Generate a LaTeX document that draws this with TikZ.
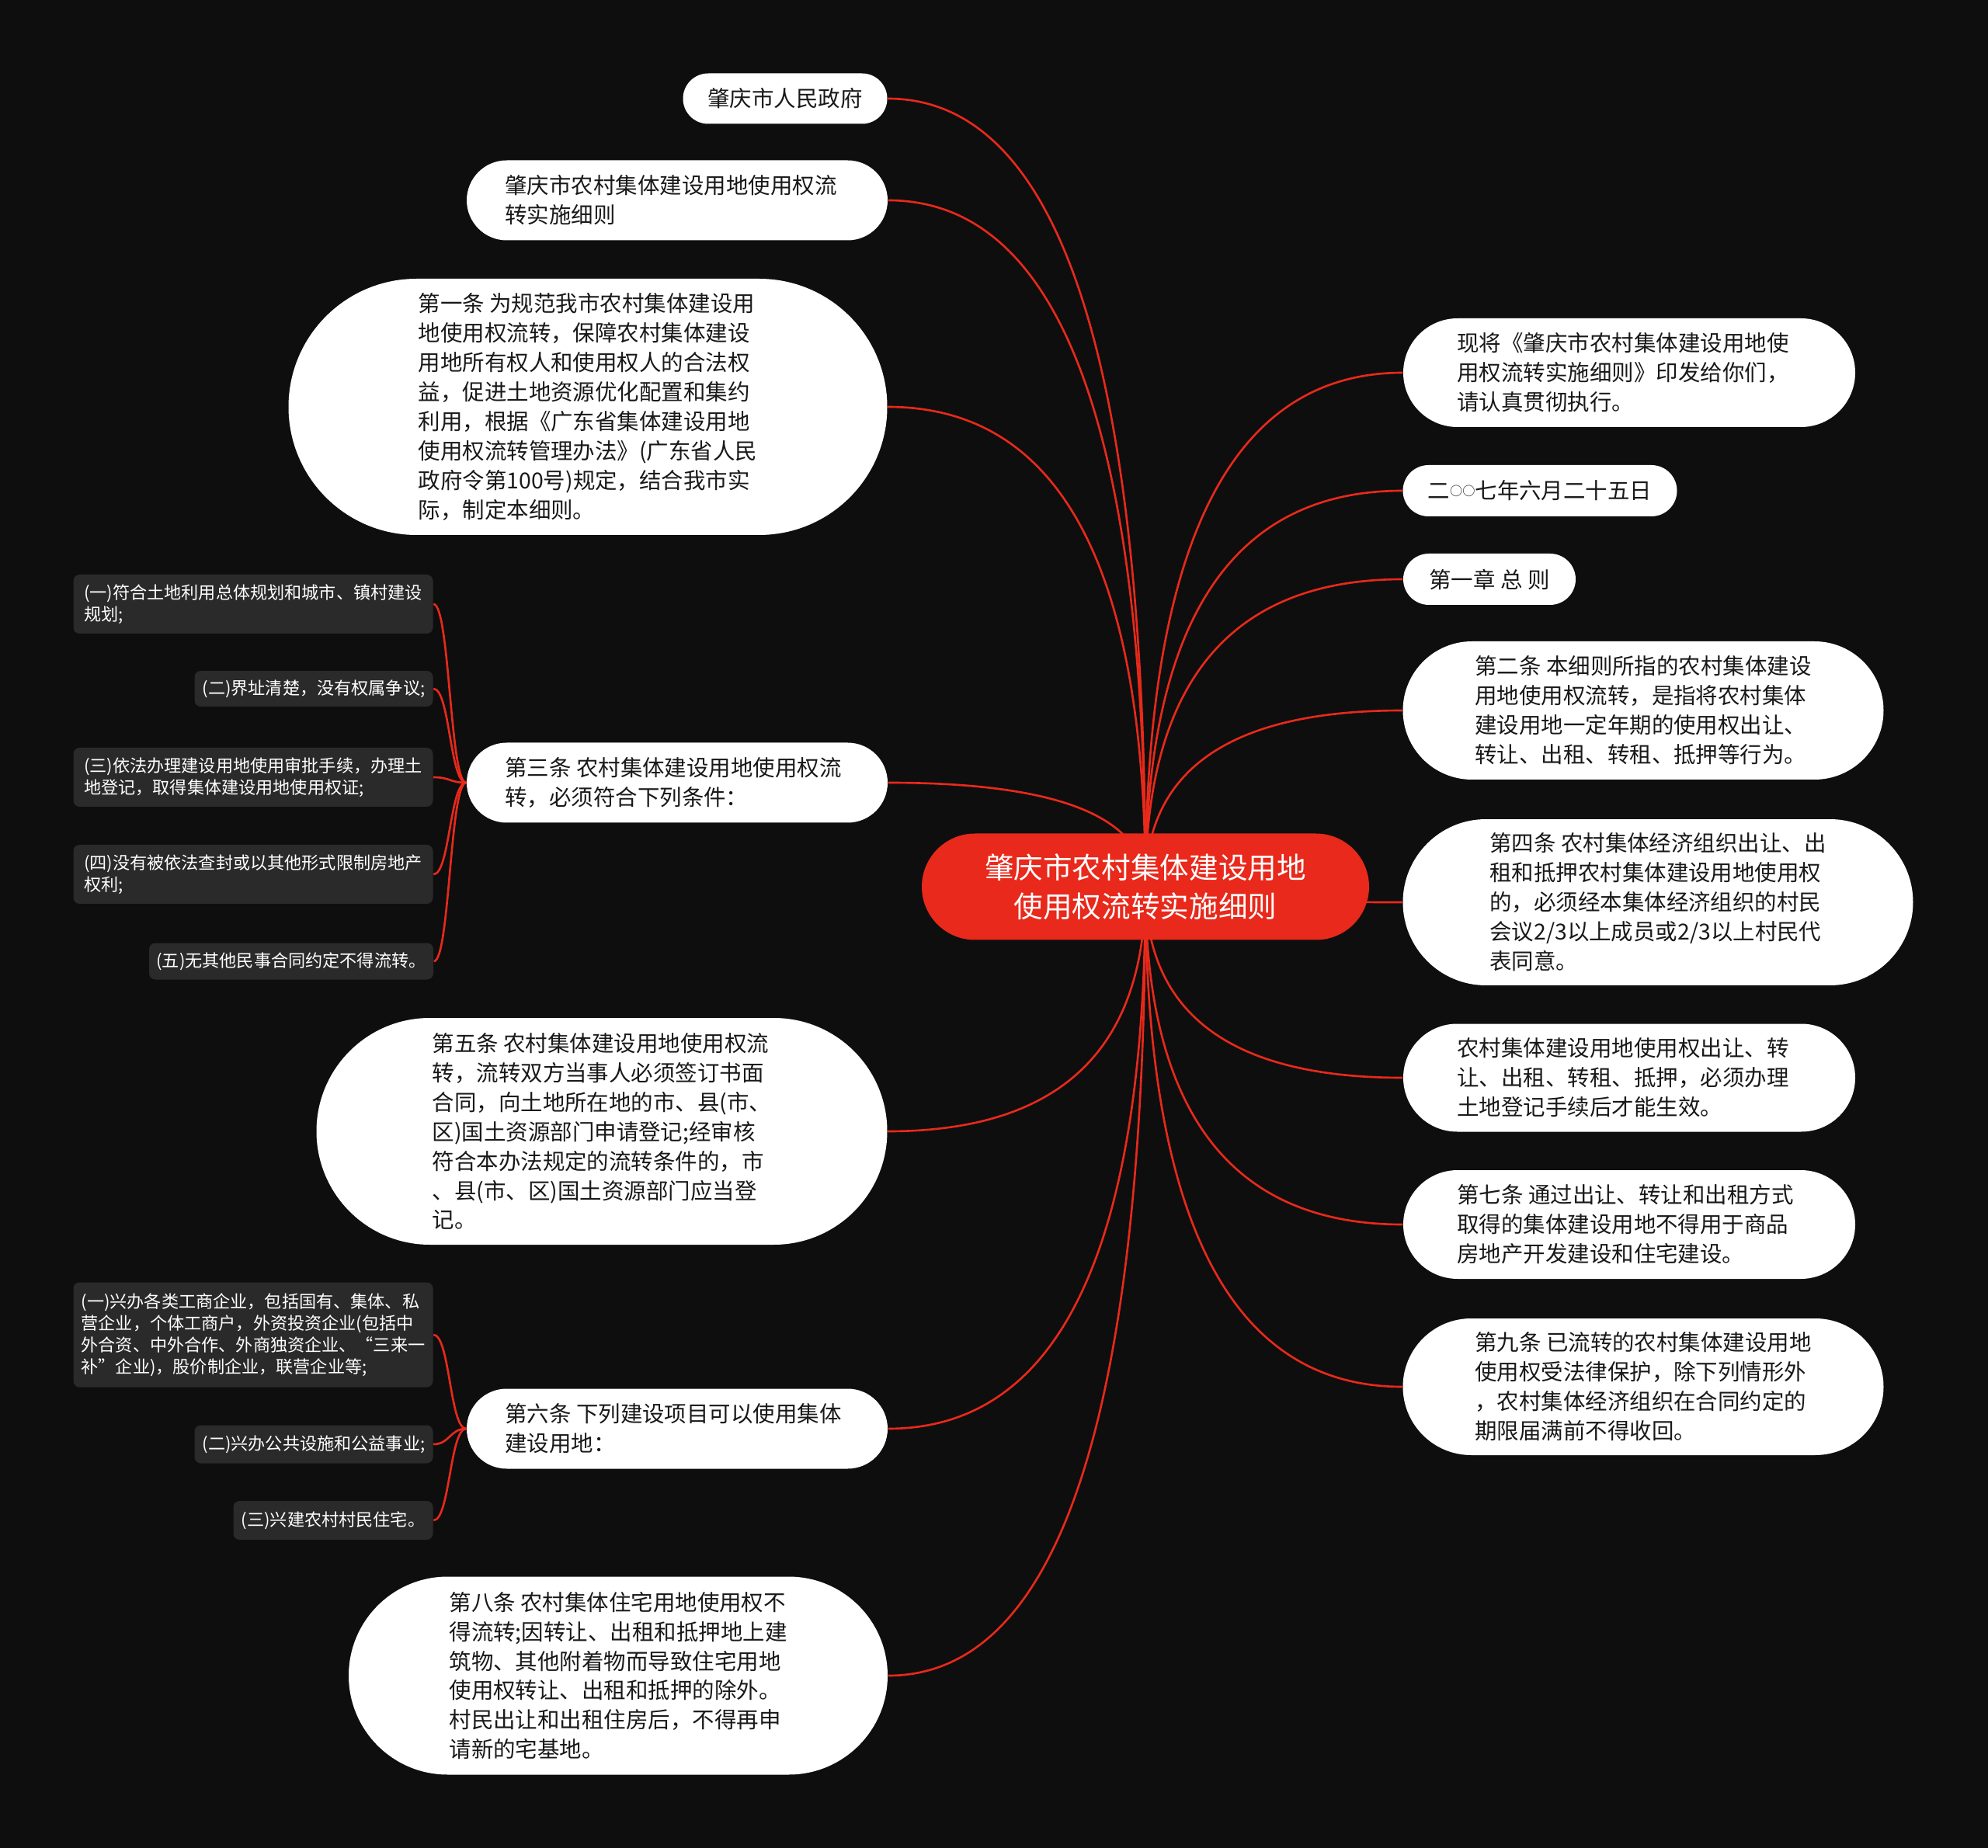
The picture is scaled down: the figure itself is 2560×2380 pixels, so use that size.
\documentclass[tikz,border=0pt]{standalone}
\usepackage{fontspec}
\newfontfamily\cjk{Noto Sans CJK SC}
\usetikzlibrary{calc}
\definecolor{bgblack}{HTML}{0E0E0E}
\definecolor{mapred}{HTML}{E8291B}
\definecolor{subgray}{HTML}{2A2A2A}
\pgfdeclarelayer{bg}
\pgfdeclarelayer{links}
\pgfsetlayers{bg,links,main}

\begin{document}
\begin{tikzpicture}[x=0.1mm,y=-0.1mm,
		wbox/.style={fill=white,text=black!90,font=\cjk\fontsize{8.1}{10.8}\selectfont,align=left,inner sep=0pt,minimum height=#1,rounded corners=#1/2},
		gbox/.style={fill=subgray,text=white,font=\cjk\fontsize{6.3}{8}\selectfont,align=left,inner sep=0pt,rounded corners=0.8mm},
		rootbox/.style={fill=mapred,text=white,font=\cjk\fontsize{10.7}{14.4}\selectfont,align=center,inner sep=0pt,minimum width=57.6mm,minimum height=13.7mm,rounded corners=6.85mm},
		link/.style={draw=mapred,line width=0.75pt}]
		\def\pad{\hspace*{1.6mm}}
		\useasboundingbox (0,0) rectangle (2560,2380);
		\begin{pgfonlayer}{bg}
			\fill[bgblack] (0,0) rectangle (2560,2380);
		\end{pgfonlayer}
		
		\node[rootbox] (root) at (1475,1142) {肇庆市农村集体建设用地\\使用权流转实施细则};
		
		%左侧
		\node[wbox=6.5mm,minimum width=26.3mm] (gov) at (1011,127) {肇庆市人民政府};
		\node[wbox=10.3mm,minimum width=54.2mm] (title) at (872,258) {肇庆市农村集体建设用地使用权流\pad\\转实施细则};
		\node[wbox=33mm,minimum width=77.1mm] (art1) at (757,524) {第一条 为规范我市农村集体建设用\\地使用权流转，保障农村集体建设\\用地所有权人和使用权人的合法权\\益，促进土地资源优化配置和集约\\利用，根据《广东省集体建设用地\\使用权流转管理办法》(广东省人民\\政府令第100号)规定，结合我市实\\际，制定本细则。};
		\node[wbox=10.3mm,minimum width=54.2mm] (art3) at (872,1008) {第三条 农村集体建设用地使用权流\hspace*{1mm}\\转，必须符合下列条件：};
		\node[wbox=29.2mm,minimum width=73.5mm] (art5) at (775,1457) {第五条 农村集体建设用地使用权流\\转，流转双方当事人必须签订书面\\合同，向土地所在地的市、县(市、\\区)国土资源部门申请登记;经审核\\符合本办法规定的流转条件的，市\\、县(市、区)国土资源部门应当登\\记。};
		\node[wbox=10.3mm,minimum width=54.2mm] (art6) at (872,1840) {第六条 下列建设项目可以使用集体\hspace*{1mm}\\建设用地：};
		\node[wbox=25.5mm,minimum width=69.4mm] (art8) at (796,2158) {第八条 农村集体住宅用地使用权不\\得流转;因转让、出租和抵押地上建\\筑物、其他附着物而导致住宅用地\\使用权转让、出租和抵押的除外。\\村民出让和出租住房后，不得再申\\请新的宅基地。};
		
		%第三条的条件
		\node[gbox,minimum width=46.3mm,minimum height=7.6mm] (s1) at (326,778) {(一)符合土地利用总体规划和城市、镇村建设\\规划;};
		\node[gbox,minimum width=30.7mm,minimum height=4.6mm] (s2) at (404,887) {(二)界址清楚，没有权属争议;};
		\node[gbox,minimum width=46.3mm,minimum height=7.6mm] (s3) at (326,1001) {(三)依法办理建设用地使用审批手续，办理土\\地登记，取得集体建设用地使用权证;};
		\node[gbox,minimum width=46.3mm,minimum height=7.6mm] (s4) at (326,1126) {(四)没有被依法查封或以其他形式限制房地产\\权利;};
		\node[gbox,minimum width=36.6mm,minimum height=4.7mm] (s5) at (375,1238) {(五)无其他民事合同约定不得流转。};
		
		%第六条的项目
		\node[gbox,minimum width=46.3mm,minimum height=13.5mm] (t1) at (326,1719) {(一)兴办各类工商企业，包括国有、集体、私\\营企业，个体工商户，外资投资企业(包括中\\外合资、中外合作、外商独资企业、“三来一\\补”企业)，股价制企业，联营企业等;};
		\node[gbox,minimum width=30.7mm,minimum height=4.9mm] (t2) at (404,1860) {(二)兴办公共设施和公益事业;};
		\node[gbox,minimum width=25.7mm,minimum height=5mm] (t3) at (429,1958) {(三)兴建农村村民住宅。};
		
		%右侧
		\node[wbox=14mm,minimum width=58.2mm] (issue) at (2098,480) {现将《肇庆市农村集体建设用地使\pad\\用权流转实施细则》印发给你们，\\请认真贯彻执行。};
		\node[wbox=6.6mm,minimum width=35.3mm] (date) at (1983,632) {二\raisebox{1.2pt}{\fontsize{4.6}{5}\selectfont ○○}七年六月二十五日};
		\node[wbox=6.6mm,minimum width=22.2mm] (ch1) at (1918,746) {第一章 总 则};
		\node[wbox=17.8mm,minimum width=61.9mm] (art2) at (2116,915) {第二条 本细则所指的农村集体建设\\用地使用权流转，是指将农村集体\\建设用地一定年期的使用权出让、\\转让、出租、转租、抵押等行为。};
		\node[wbox=21.4mm,minimum width=65.7mm] (art4) at (2135,1162) {第四条 农村集体经济组织出让、出\\租和抵押农村集体建设用地使用权\\的，必须经本集体经济组织的村民\\会议2/3以上成员或2/3以上村民代\\表同意。};
		\node[wbox=13.9mm,minimum width=58.2mm] (reg) at (2098,1388) {农村集体建设用地使用权出让、转\pad\\让、出租、转租、抵押，必须办理\\土地登记手续后才能生效。};
		\node[wbox=14mm,minimum width=58.2mm] (art7) at (2098,1577) {第七条 通过出让、转让和出租方式\hspace*{1mm}\\取得的集体建设用地不得用于商品\\房地产开发建设和住宅建设。};
		\node[wbox=17.6mm,minimum width=61.9mm] (art9) at (2116,1786) {第九条 已流转的农村集体建设用地\\使用权受法律保护，除下列情形外\\，农村集体经济组织在合同约定的\\期限届满前不得收回。};
		
		\coordinate (spine3) at ($(art3.west)!.5!(s1.east)$);
		\coordinate (spine6) at ($(art6.west)!.5!(t1.east)$);
		\begin{pgfonlayer}{links}
			\foreach \n in {gov,title,art1,art3,art5,art6,art8}
			\draw[link] (root.center) .. controls ($(root.center)!.667!(root.center |- \n.east)$) and ($(\n.east)!.667!(root.center |- \n.east)$) .. (\n.east);
			\foreach \n in {issue,date,ch1,art2,art4,reg,art7,art9}
			\draw[link] (root.center) .. controls ($(root.center)!.667!(root.center |- \n.west)$) and ($(\n.west)!.667!(root.center |- \n.west)$) .. (\n.west);
			\foreach \n in {s1,s2,s3,s4,s5}
			\draw[link] (art3.west) .. controls (spine3 |- art3.west) and (spine3 |- \n.east) .. (\n.east);
			\foreach \n in {t1,t2,t3}
			\draw[link] (art6.west) .. controls (spine6 |- art6.west) and (spine6 |- \n.east) .. (\n.east);
		\end{pgfonlayer}
	\end{tikzpicture}
\end{document}
